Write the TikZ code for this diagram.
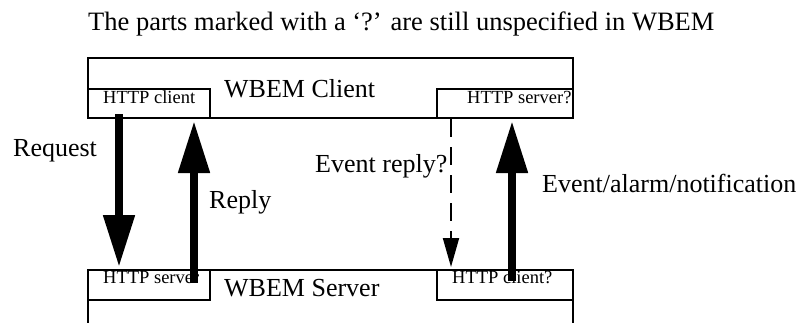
\documentclass[tikz,border=0pt]{standalone}
\usepackage{fontspec}
\setmainfont{Liberation Serif}
\usepackage{tikz}
\usetikzlibrary{arrows.meta,positioning}

\tikzset{
  box/.style={draw, line width=2pt, rectangle, inner sep=0pt, anchor=north west},
  lbl/.style={anchor=base west, inner sep=0pt, font=\fontsize{26pt}{30pt}\selectfont},
  smalllbl/.style={anchor=base west, inner sep=0pt, font=\fontsize{18.5pt}{22pt}\selectfont},
  bigarrow/.style={line width=8pt, -{Triangle[length=52pt,width=30pt]}},
  dasharrow/.style={line width=2pt, dash pattern=on 18pt off 10pt, -{Triangle[length=29pt,width=16pt]}}
}

\begin{document}
\begin{tikzpicture}[x=1pt,y=-1pt]
\path[use as bounding box, clip] (0,0) rectangle (804,322);

% Title
\node[lbl, font=\fontsize{26.5pt}{30pt}\selectfont] (title) at (88,30) {The parts marked with a `?' are still unspecified in WBEM};

% WBEM Client with its two HTTP parts
\node[box, minimum width=485pt, minimum height=60pt] (client) at (87,57) {};
\node[box, minimum width=122pt, minimum height=29pt] (hcli) at (87,88) {};
\node[box, minimum width=136pt, minimum height=29pt] (hsrvq) at (436,88) {};
\node[lbl] (clientlbl) at (224,97) {WBEM Client};
\node[smalllbl] (hclilbl) at (103,103) {HTTP client};
\node[smalllbl] (hsrvqlbl) at (467,103) {HTTP server?};

% WBEM Server with its two HTTP parts (runs off the bottom)
\node[box, minimum width=485pt, minimum height=120pt] (server) at (87,269) {};
\node[box, minimum width=122pt, minimum height=30pt] (hsrv) at (87,269) {};
\node[box, minimum width=136pt, minimum height=30pt] (hcliq) at (436,269) {};
\node[lbl] (serverlbl) at (224,296) {WBEM Server};
\node[smalllbl] (hsrvlbl) at (103,283) {HTTP server};
\node[smalllbl] (hcliqlbl) at (452,283) {HTTP client?};

% Request / reply
\draw[bigarrow] ([xshift=32pt,yshift=5pt]hcli.south west) -- ([xshift=32pt,yshift=2pt]hsrv.north west);
\draw[bigarrow] ([xshift=107pt,yshift=-14pt]hsrv.north west) -- ([xshift=107pt,yshift=-2pt]hcli.south west);
\node[lbl] (reqlbl) at (13,156) {Request};
\node[lbl] (replbl) at (209,208) {Reply};

% Events
\draw[dasharrow] ([xshift=15pt]hsrvq.south west) -- ([xshift=15pt,yshift=2pt]hcliq.north west);
\draw[bigarrow] ([xshift=76pt,yshift=-12pt]hcliq.north west) -- ([xshift=76pt,yshift=-2pt]hsrvq.south west);
\node[lbl] (evreplbl) at (315,172) {Event reply?};
\node[lbl] (evlbl) at (542,192) {Event/alarm/notification};
\end{tikzpicture}
\end{document}
